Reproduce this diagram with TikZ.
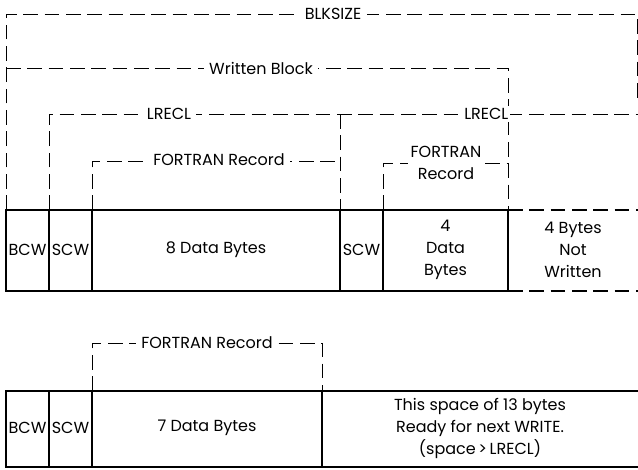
\documentclass[tikz,border=0pt]{standalone}
\usepackage{fontspec}
\setmainfont{Poppins}
\tikzset{
  dim/.style={dash pattern=on 11pt off 5pt, line width=.6pt},
  cell/.style={line width=1.2pt},
  gap/.style={dash pattern=on 11pt off 5pt, line width=1.2pt},
  lbl/.style={fill=white, inner xsep=4pt, inner ysep=2pt},
  txt/.style={align=center, inner sep=0pt}
}
\begin{document}
\begin{tikzpicture}[x=.75pt,y=-.75pt,font=\fontsize{12}{16.5}\selectfont]
  \useasboundingbox (0,0) rectangle (638,469);
  % upper block
  \draw[cell] (6,210) rectangle (508,291);
  \foreach \x in {49,92,340,383}
    \draw[cell] (\x,210) -- (\x,291);
  \draw[gap] (508,210) -- (638,210);
  \draw[gap] (508,291) -- (638,291);
  \node[txt] (bcw1) at (27.5,250) {BCW};
  \node[txt] (scw1) at (70.5,250) {SCW};
  \node[txt] (data8) at (216,250) {8 Data Bytes};
  \node[txt] (scw2) at (361.5,250) {SCW};
  \node[txt] (data4) at (445.5,250) {4\\Data\\Bytes};
  \node[txt] (unused) at (573,250) {4 Bytes\\Not\\Written};
  % BLKSIZE
  \draw[dim] (6,210) -- (6,14) -- (637,14) -- (637,100);
  \node[lbl] (blk) at (333,14) {BLKSIZE};
  % written block
  \draw[dim] (6,68) -- (508,68) -- (508,210);
  \node[lbl] (wblk) at (261,68) {Written Block};
  % LRECL
  \draw[dim] (49,210) -- (49,114) -- (638,114);
  \draw[dim] (340,114) -- (340,210);
  \node[lbl] (lrecl1) at (169,114) {LRECL};
  \node[lbl,anchor=east,inner xsep=1pt] (lrecl2) at (510,114) {LRECL};
  % FORTRAN records
  \draw[dim] (92,210) -- (92,161) -- (340,161);
  \node[lbl] (rec1) at (219,160) {FORTRAN Record};
  \draw[dim] (383,210) -- (383,163) -- (508,163);
  \node[lbl,align=center,inner xsep=2pt] (rec2) at (446,163) {FORTRAN\\Record};
  % lower block
  \draw[cell] (638,391) -- (6,391) -- (6,467) -- (638,467);
  \foreach \x in {49,92,322}
    \draw[cell] (\x,391) -- (\x,467);
  \node[txt] (bcw3) at (27.5,428) {BCW};
  \node[txt] (scw3) at (70.5,428) {SCW};
  \node[txt] (data7) at (207,428) {7 Data Bytes};
  \node[txt] (space) at (480,428) {This space of 13 bytes\\Ready for next WRITE.\\(space\,>\,LRECL)};
  \draw[dim] (92,391) -- (92,343) -- (322,343) -- (322,391);
  \node[lbl] (rec3) at (207,343) {FORTRAN Record};
\end{tikzpicture}
\end{document}
